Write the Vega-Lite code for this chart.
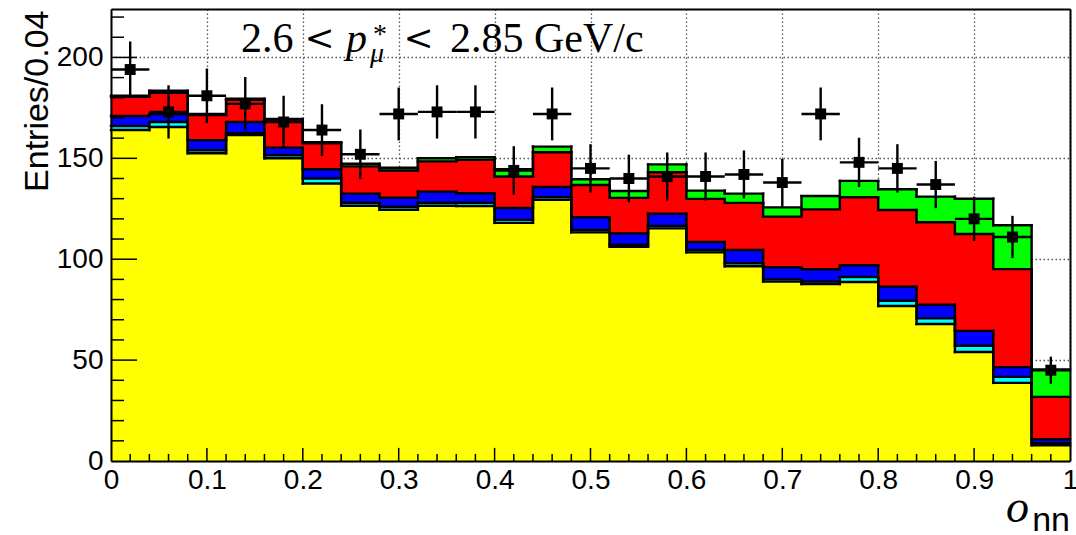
{
  "$schema": "https://vega.github.io/schema/vega-lite/v6.json",
  "width": 959,
  "height": 452,
  "autosize": {"type": "none"},
  "padding": {"left": 111, "top": 9, "right": 6, "bottom": 74},
  "background": "white",
  "config": {"view": {"stroke": null}, "font": "Liberation Sans"},
  "datasets": {
    "stack": [
      {"lo": 0.00, "hi": 0.04, "yellow": 164.0, "cyan": 2.0, "blue": 5.0, "red": 9.5, "green": 0.5},
      {"lo": 0.04, "hi": 0.08, "yellow": 165.5, "cyan": 2.5, "blue": 4.0, "red": 10.5, "green": 1.0},
      {"lo": 0.08, "hi": 0.12, "yellow": 152.5, "cyan": 1.5, "blue": 5.0, "red": 12.5, "green": 0.5},
      {"lo": 0.12, "hi": 0.16, "yellow": 161.5, "cyan": 1.0, "blue": 5.5, "red": 11.0, "green": 0.5},
      {"lo": 0.16, "hi": 0.20, "yellow": 150.0, "cyan": 1.5, "blue": 3.8, "red": 13.9, "green": 0.3},
      {"lo": 0.20, "hi": 0.24, "yellow": 137.5, "cyan": 2.5, "blue": 4.6, "red": 12.9, "green": 0.5},
      {"lo": 0.24, "hi": 0.28, "yellow": 126.5, "cyan": 1.5, "blue": 4.5, "red": 13.5, "green": 1.3},
      {"lo": 0.28, "hi": 0.32, "yellow": 124.5, "cyan": 1.5, "blue": 4.5, "red": 13.5, "green": 1.3},
      {"lo": 0.32, "hi": 0.36, "yellow": 126.5, "cyan": 1.5, "blue": 5.5, "red": 15.0, "green": 1.5},
      {"lo": 0.36, "hi": 0.40, "yellow": 126.4, "cyan": 1.6, "blue": 4.7, "red": 16.6, "green": 1.3},
      {"lo": 0.40, "hi": 0.44, "yellow": 118.0, "cyan": 1.5, "blue": 5.9, "red": 15.6, "green": 3.6},
      {"lo": 0.44, "hi": 0.48, "yellow": 129.4, "cyan": 1.3, "blue": 5.1, "red": 17.2, "green": 2.8},
      {"lo": 0.48, "hi": 0.52, "yellow": 113.3, "cyan": 1.2, "blue": 6.3, "red": 16.0, "green": 2.8},
      {"lo": 0.52, "hi": 0.56, "yellow": 106.2, "cyan": 1.0, "blue": 5.6, "red": 17.6, "green": 3.4},
      {"lo": 0.56, "hi": 0.60, "yellow": 115.3, "cyan": 1.2, "blue": 6.1, "red": 20.5, "green": 3.9},
      {"lo": 0.60, "hi": 0.64, "yellow": 103.4, "cyan": 1.2, "blue": 3.9, "red": 21.4, "green": 4.1},
      {"lo": 0.64, "hi": 0.68, "yellow": 96.5, "cyan": 1.5, "blue": 6.6, "red": 23.3, "green": 4.6},
      {"lo": 0.68, "hi": 0.72, "yellow": 88.9, "cyan": 1.1, "blue": 6.0, "red": 25.1, "green": 4.6},
      {"lo": 0.72, "hi": 0.76, "yellow": 87.7, "cyan": 1.2, "blue": 6.1, "red": 29.7, "green": 6.6},
      {"lo": 0.76, "hi": 0.80, "yellow": 88.7, "cyan": 2.5, "blue": 5.8, "red": 33.7, "green": 8.1},
      {"lo": 0.80, "hi": 0.84, "yellow": 76.8, "cyan": 2.6, "blue": 7.0, "red": 38.0, "green": 10.3},
      {"lo": 0.84, "hi": 0.88, "yellow": 67.9, "cyan": 2.8, "blue": 6.7, "red": 40.9, "green": 12.7},
      {"lo": 0.88, "hi": 0.92, "yellow": 54.0, "cyan": 3.1, "blue": 7.4, "red": 48.0, "green": 17.5},
      {"lo": 0.92, "hi": 0.96, "yellow": 38.7, "cyan": 3.0, "blue": 4.8, "red": 48.6, "green": 21.7},
      {"lo": 0.96, "hi": 1.00, "yellow": 7.8, "cyan": 1.0, "blue": 2.0, "red": 21.0, "green": 13.6}
    ],
    "obs": [
      {"lo": 0.00, "mid": 0.02, "hi": 0.04, "n": 194, "err": 13.9},
      {"lo": 0.04, "mid": 0.06, "hi": 0.08, "n": 173, "err": 13.2},
      {"lo": 0.08, "mid": 0.10, "hi": 0.12, "n": 181, "err": 13.5},
      {"lo": 0.12, "mid": 0.14, "hi": 0.16, "n": 177, "err": 13.3},
      {"lo": 0.16, "mid": 0.18, "hi": 0.20, "n": 168, "err": 13.0},
      {"lo": 0.20, "mid": 0.22, "hi": 0.24, "n": 164, "err": 12.8},
      {"lo": 0.24, "mid": 0.26, "hi": 0.28, "n": 152, "err": 12.3},
      {"lo": 0.28, "mid": 0.30, "hi": 0.32, "n": 172, "err": 13.1},
      {"lo": 0.32, "mid": 0.34, "hi": 0.36, "n": 173, "err": 13.2},
      {"lo": 0.36, "mid": 0.38, "hi": 0.40, "n": 173, "err": 13.2},
      {"lo": 0.40, "mid": 0.42, "hi": 0.44, "n": 144, "err": 12.0},
      {"lo": 0.44, "mid": 0.46, "hi": 0.48, "n": 172, "err": 13.1},
      {"lo": 0.48, "mid": 0.50, "hi": 0.52, "n": 145, "err": 12.0},
      {"lo": 0.52, "mid": 0.54, "hi": 0.56, "n": 140, "err": 11.8},
      {"lo": 0.56, "mid": 0.58, "hi": 0.60, "n": 141, "err": 11.9},
      {"lo": 0.60, "mid": 0.62, "hi": 0.64, "n": 141, "err": 11.9},
      {"lo": 0.64, "mid": 0.66, "hi": 0.68, "n": 142, "err": 11.9},
      {"lo": 0.68, "mid": 0.70, "hi": 0.72, "n": 138, "err": 11.7},
      {"lo": 0.72, "mid": 0.74, "hi": 0.76, "n": 172, "err": 13.1},
      {"lo": 0.76, "mid": 0.78, "hi": 0.80, "n": 148, "err": 12.2},
      {"lo": 0.80, "mid": 0.82, "hi": 0.84, "n": 145, "err": 12.0},
      {"lo": 0.84, "mid": 0.86, "hi": 0.88, "n": 137, "err": 11.7},
      {"lo": 0.88, "mid": 0.90, "hi": 0.92, "n": 120, "err": 11.0},
      {"lo": 0.92, "mid": 0.94, "hi": 0.96, "n": 111, "err": 10.5},
      {"lo": 0.96, "mid": 0.98, "hi": 1.00, "n": 45, "err": 6.7}
    ],
    "xMinorTicks": [
      {"v": 0.02}, {"v": 0.04}, {"v": 0.06}, {"v": 0.08}, {"v": 0.12}, {"v": 0.14}, {"v": 0.16}, {"v": 0.18},
      {"v": 0.22}, {"v": 0.24}, {"v": 0.26}, {"v": 0.28}, {"v": 0.32}, {"v": 0.34}, {"v": 0.36}, {"v": 0.38},
      {"v": 0.42}, {"v": 0.44}, {"v": 0.46}, {"v": 0.48}, {"v": 0.52}, {"v": 0.54}, {"v": 0.56}, {"v": 0.58},
      {"v": 0.62}, {"v": 0.64}, {"v": 0.66}, {"v": 0.68}, {"v": 0.72}, {"v": 0.74}, {"v": 0.76}, {"v": 0.78},
      {"v": 0.82}, {"v": 0.84}, {"v": 0.86}, {"v": 0.88}, {"v": 0.92}, {"v": 0.94}, {"v": 0.96}, {"v": 0.98}
    ],
    "xMajorTicks": [
      {"v": 0.1}, {"v": 0.2}, {"v": 0.3}, {"v": 0.4}, {"v": 0.5}, {"v": 0.6}, {"v": 0.7}, {"v": 0.8}, {"v": 0.9}
    ],
    "yMinorTicks": [
      {"v": 10}, {"v": 20}, {"v": 30}, {"v": 40}, {"v": 60}, {"v": 70}, {"v": 80}, {"v": 90},
      {"v": 110}, {"v": 120}, {"v": 130}, {"v": 140}, {"v": 160}, {"v": 170}, {"v": 180}, {"v": 190},
      {"v": 210}, {"v": 220}
    ],
    "yMajorTicks": [
      {"v": 50}, {"v": 100}, {"v": 150}, {"v": 200}
    ]
  },
  "resolve": {"axis": {"x": "independent", "y": "independent"}},
  "layer": [
    {
      "data": {"name": "stack"},
      "transform": [
        {"fold": ["yellow", "cyan", "blue", "red", "green"], "as": ["comp", "n"]},
        {"stack": "n", "groupby": ["lo"], "as": ["c0", "c1"]}
      ],
      "mark": {"type": "rect", "strokeWidth": 1},
      "encoding": {
        "x": {
          "field": "lo", "type": "quantitative",
          "scale": {"domain": [0, 1], "nice": false, "zero": false},
          "axis": {
            "orient": "bottom", "zindex": 0, "title": null,
            "values": [0, 0.1, 0.2, 0.3, 0.4, 0.5, 0.6, 0.7, 0.8, 0.9, 1],
            "format": "~g", "grid": true, "gridColor": "#555555", "gridDash": [1.5, 2.5], "gridWidth": 1.3,
            "ticks": false, "domain": false, "labelOverlap": false, "labelBound": false, "labelFlush": false,
            "labelFont": "Liberation Sans", "labelFontSize": 28, "labelColor": "black",
            "labelPadding": 5, "labelBaseline": "top"
          }
        },
        "x2": {"field": "hi"},
        "y": {
          "field": "c1", "type": "quantitative",
          "scale": {"domain": [0, 224], "nice": false, "zero": false},
          "axis": {
            "orient": "left", "zindex": 0,
            "values": [0, 50, 100, 150, 200],
            "grid": true, "gridColor": "#555555", "gridDash": [1.5, 2.5], "gridWidth": 1.3,
            "ticks": false, "domain": false, "labelOverlap": false, "labelBound": false, "labelFlush": false,
            "labelFont": "Liberation Sans", "labelFontSize": 28, "labelColor": "black", "labelPadding": 8,
            "title": "Entries/0.04", "titleFont": "Liberation Sans", "titleFontSize": 34,
            "titleFontWeight": "normal", "titleColor": "black", "titleAngle": -90,
            "titleAlign": "right", "titleBaseline": "alphabetic", "titleX": -64, "titleY": 1
          }
        },
        "y2": {"field": "c0"},
        "color": {
          "field": "comp", "type": "nominal",
          "scale": {"domain": ["yellow", "cyan", "blue", "red", "green"], "range": ["#ffff00", "#00ffff", "#0000ff", "#ff0000", "#00ff00"]},
          "legend": null
        },
        "stroke": {
          "field": "comp", "type": "nominal",
          "scale": {"domain": ["yellow", "cyan", "blue", "red", "green"], "range": ["#ffff00", "#00ffff", "#0000ff", "#ff0000", "#00ff00"]},
          "legend": null
        }
      }
    },
    {
      "data": {"name": "stack"},
      "transform": [
        {"fold": ["yellow", "cyan", "blue", "red", "green"], "as": ["comp", "n"]},
        {"stack": "n", "groupby": ["lo"], "as": ["c0", "c1"]}
      ],
      "mark": {"type": "rule", "color": "black", "strokeWidth": 2.4, "strokeCap": "square"},
      "encoding": {
        "x": {"field": "lo", "type": "quantitative", "axis": null},
        "x2": {"field": "hi"},
        "y": {"field": "c1", "type": "quantitative", "axis": null}
      }
    },
    {
      "data": {"name": "stack"},
      "transform": [
        {"fold": ["yellow", "cyan", "blue", "red", "green"], "as": ["comp", "n"]},
        {"stack": "n", "groupby": ["lo"], "as": ["c0", "c1"]},
        {"window": [{"op": "lag", "field": "c1", "as": "prev"}], "groupby": ["comp"], "sort": [{"field": "lo", "order": "ascending"}]},
        {"filter": "isValid(datum.prev)"}
      ],
      "mark": {"type": "rule", "color": "black", "strokeWidth": 2.4, "strokeCap": "square"},
      "encoding": {
        "x": {
          "field": "lo", "type": "quantitative",
          "axis": {"orient": "top", "zindex": 1, "title": null, "labels": false, "grid": false, "ticks": false, "domain": true, "domainColor": "black", "domainWidth": 2}
        },
        "y": {
          "field": "prev", "type": "quantitative",
          "axis": {"orient": "right", "zindex": 1, "title": null, "labels": false, "grid": false, "ticks": false, "domain": true, "domainColor": "black", "domainWidth": 2}
        },
        "y2": {"field": "c1"}
      }
    },
    {
      "data": {"name": "xMinorTicks"},
      "mark": {"type": "rule", "color": "black", "strokeWidth": 1.5},
      "encoding": {
        "x": {"field": "v", "type": "quantitative", "axis": null},
        "y": {"datum": 0, "type": "quantitative", "axis": null},
        "y2": {"datum": 3.5}
      }
    },
    {
      "data": {"name": "xMajorTicks"},
      "mark": {"type": "rule", "color": "black", "strokeWidth": 1.5},
      "encoding": {
        "x": {"field": "v", "type": "quantitative", "axis": null},
        "y": {"datum": 0, "type": "quantitative", "axis": null},
        "y2": {"datum": 6.5}
      }
    },
    {
      "data": {"name": "yMinorTicks"},
      "mark": {"type": "rule", "color": "black", "strokeWidth": 1.5},
      "encoding": {
        "y": {"field": "v", "type": "quantitative", "axis": null},
        "x": {"datum": 0, "type": "quantitative", "axis": null},
        "x2": {"datum": 0.0136}
      }
    },
    {
      "data": {"name": "yMajorTicks"},
      "mark": {"type": "rule", "color": "black", "strokeWidth": 1.5},
      "encoding": {
        "y": {"field": "v", "type": "quantitative", "axis": null},
        "x": {"datum": 0, "type": "quantitative", "axis": null},
        "x2": {"datum": 0.0271}
      }
    },
    {
      "data": {"name": "obs"},
      "mark": {"type": "rule", "color": "black", "strokeWidth": 2.4},
      "encoding": {
        "x": {"field": "lo", "type": "quantitative", "axis": null},
        "x2": {"field": "hi"},
        "y": {"field": "n", "type": "quantitative", "axis": null}
      }
    },
    {
      "data": {"name": "obs"},
      "mark": {"type": "errorbar", "color": "black", "rule": {"strokeWidth": 2.4}},
      "encoding": {
        "x": {"field": "mid", "type": "quantitative", "axis": null},
        "y": {"field": "n", "type": "quantitative", "axis": null},
        "yError": {"field": "err"}
      }
    },
    {
      "data": {"name": "obs"},
      "mark": {"type": "square", "color": "black", "filled": true, "opacity": 1, "size": 120},
      "encoding": {
        "x": {
          "field": "mid", "type": "quantitative",
          "axis": {"orient": "bottom", "zindex": 1, "title": null, "labels": false, "grid": false, "ticks": false, "domain": true, "domainColor": "black", "domainWidth": 2}
        },
        "y": {
          "field": "n", "type": "quantitative",
          "axis": {"orient": "left", "zindex": 1, "title": null, "labels": false, "grid": false, "ticks": false, "domain": true, "domainColor": "black", "domainWidth": 2}
        }
      }
    },
    {
      "data": {"values": [{}]},
      "mark": {"type": "text", "text": "2.6", "font": "Liberation Serif", "fontSize": 42, "align": "left", "baseline": "alphabetic", "color": "black"},
      "encoding": {"x": {"datum": 0.1356, "type": "quantitative", "axis": null}, "y": {"datum": 202.8, "type": "quantitative", "axis": null}}
    },
    {
      "data": {"values": [{}]},
      "mark": {"type": "text", "text": "<", "font": "DejaVu Serif", "fontSize": 36, "align": "left", "baseline": "alphabetic", "color": "black"},
      "encoding": {"x": {"datum": 0.2018, "type": "quantitative", "axis": null}, "y": {"datum": 203.5, "type": "quantitative", "axis": null}}
    },
    {
      "data": {"values": [{}]},
      "mark": {"type": "text", "text": "p", "font": "Liberation Serif", "fontSize": 42, "fontStyle": "italic", "align": "left", "baseline": "alphabetic", "color": "black"},
      "encoding": {"x": {"datum": 0.2451, "type": "quantitative", "axis": null}, "y": {"datum": 202.8, "type": "quantitative", "axis": null}}
    },
    {
      "data": {"values": [{}]},
      "mark": {"type": "text", "text": "*", "font": "Liberation Serif", "fontSize": 28, "align": "left", "baseline": "alphabetic", "color": "black"},
      "encoding": {"x": {"datum": 0.2732, "type": "quantitative", "axis": null}, "y": {"datum": 207.1, "type": "quantitative", "axis": null}}
    },
    {
      "data": {"values": [{}]},
      "mark": {"type": "text", "text": "μ", "font": "Liberation Serif", "fontSize": 28, "fontStyle": "italic", "align": "left", "baseline": "alphabetic", "color": "black"},
      "encoding": {"x": {"datum": 0.2701, "type": "quantitative", "axis": null}, "y": {"datum": 197.7, "type": "quantitative", "axis": null}}
    },
    {
      "data": {"values": [{}]},
      "mark": {"type": "text", "text": "<", "font": "DejaVu Serif", "fontSize": 36, "align": "left", "baseline": "alphabetic", "color": "black"},
      "encoding": {"x": {"datum": 0.3049, "type": "quantitative", "axis": null}, "y": {"datum": 203.5, "type": "quantitative", "axis": null}}
    },
    {
      "data": {"values": [{}]},
      "mark": {"type": "text", "text": "2.85 GeV/c", "font": "Liberation Serif", "fontSize": 42, "align": "left", "baseline": "alphabetic", "color": "black"},
      "encoding": {"x": {"datum": 0.3535, "type": "quantitative", "axis": null}, "y": {"datum": 202.8, "type": "quantitative", "axis": null}}
    },
    {
      "data": {"values": [{}]},
      "mark": {"type": "text", "text": "o", "font": "Liberation Serif", "fontSize": 46, "fontStyle": "italic", "align": "right", "baseline": "alphabetic", "color": "black"},
      "encoding": {"x": {"datum": 0.9572, "type": "quantitative", "axis": null}, "y": {"datum": -30.2, "type": "quantitative", "axis": null}}
    },
    {
      "data": {"values": [{}]},
      "mark": {"type": "text", "text": "nn", "font": "Liberation Sans", "fontSize": 34, "align": "right", "baseline": "alphabetic", "color": "black"},
      "encoding": {"x": {"datum": 1.0, "type": "quantitative", "axis": null}, "y": {"datum": -34.7, "type": "quantitative", "axis": null}}
    }
  ]
}
